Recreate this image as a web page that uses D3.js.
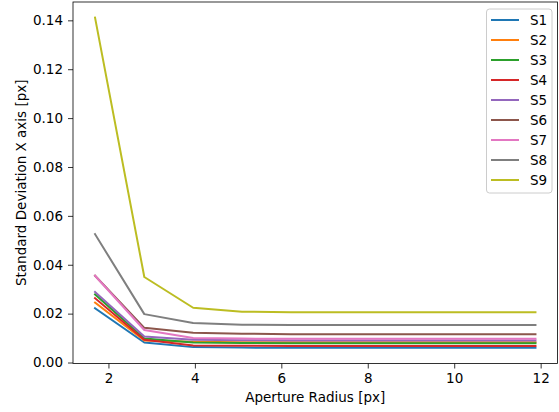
<!DOCTYPE html>
<html>
<head>
<meta charset="utf-8">
<script src="https://cdn.jsdelivr.net/npm/d3@7"></script>
<style>
  body { margin: 0; background: #fff; }
  svg { display: block; font-family: "DejaVu Sans", sans-serif; }
</style>
</head>
<body>
<svg id="chart" width="559" height="412"></svg>
<script>
// aperture radii (x) and one series per S1..S9
const radii = [1.69, 2.83, 3.96, 5.09, 6.22, 7.35, 8.49, 9.62, 10.75, 11.88];
const seriesNames = ["S1", "S2", "S3", "S4", "S5", "S6", "S7", "S8", "S9"];
const s1 = [0.0222, 0.0082, 0.0063, 0.0061, 0.0060, 0.0060, 0.0060, 0.0060, 0.0060, 0.0060];
const s2 = [0.0245, 0.0090, 0.0085, 0.0083, 0.0083, 0.0083, 0.0083, 0.0083, 0.0083, 0.0083];
const s3 = [0.0279, 0.0098, 0.0082, 0.0080, 0.0079, 0.0079, 0.0079, 0.0079, 0.0079, 0.0079];
const s4 = [0.0263, 0.0093, 0.0070, 0.0069, 0.0068, 0.0068, 0.0068, 0.0068, 0.0068, 0.0068];
const s5 = [0.0289, 0.0106, 0.0093, 0.0091, 0.0090, 0.0090, 0.0090, 0.0090, 0.0090, 0.0090];
const s6 = [0.0355, 0.0142, 0.0122, 0.0118, 0.0116, 0.0116, 0.0116, 0.0116, 0.0116, 0.0116];
const s7 = [0.0355, 0.0133, 0.0100, 0.0098, 0.0097, 0.0097, 0.0097, 0.0097, 0.0097, 0.0097];
const s8 = [0.0525, 0.0198, 0.0162, 0.0155, 0.0154, 0.0154, 0.0154, 0.0154, 0.0154, 0.0154];
const s9 = [0.1411, 0.0350, 0.0224, 0.0208, 0.0206, 0.0206, 0.0206, 0.0206, 0.0206, 0.0206];
const xTicks = [2, 4, 6, 8, 10, 12];
const yTicks = [0, 0.02, 0.04, 0.06, 0.08, 0.10, 0.12, 0.14];

(function(){

	const colors = ["#1f77b4", "#ff7f0e", "#2ca02c", "#d62728", "#9467bd",
	                "#8c564b", "#e377c2", "#7f7f7f", "#bcbd22"];
	const allSeries = [s1, s2, s3, s4, s5, s6, s7, s8, s9];

	const svg = d3.select("#chart");
	const plotLeft = 73, plotRight = 557.5, plotTop = 2, plotBottom = 363.5;

	const x = d3.scaleLinear().domain([1.18, 12.39]).range([plotLeft, plotRight]);
	const y = d3.scaleLinear().domain([-0.0004, 0.1475]).range([plotBottom, plotTop]);

	// lines, S1 drawn first so S9 ends up on top
	const line = d3.line()
		.x((d, i) => x(radii[i]))
		.y(d => y(d));

	svg.append("g").selectAll("path")
		.data(allSeries)
		.enter().append("path")
		.attr("d", d => line(d))
		.attr("fill", "none")
		.attr("stroke", (d, i) => colors[i])
		.attr("stroke-width", 2)
		.attr("stroke-linejoin", "round")
		.attr("stroke-linecap", "square");

	// axes
	const xAxis = d3.axisBottom(x).tickValues(xTicks).tickSize(5).tickPadding(5)
		.tickFormat(d3.format("d"));
	const yAxis = d3.axisLeft(y).tickValues(yTicks).tickSize(5).tickPadding(5)
		.tickFormat(d3.format(".2f"));

	const gx = svg.append("g").attr("transform", `translate(0,${plotBottom})`).call(xAxis);
	const gy = svg.append("g").attr("transform", `translate(${plotLeft},0)`).call(yAxis);
	[gx, gy].forEach(g => {
		g.select(".domain").remove();
		g.selectAll("line").attr("stroke", "#000").attr("stroke-width", 0.8);
		g.selectAll("text").attr("fill", "#000").style("font-size", "13.5px")
			.style("font-family", "DejaVu Sans, sans-serif");
	});

	// frame
	svg.append("rect")
		.attr("x", plotLeft).attr("y", plotTop)
		.attr("width", plotRight - plotLeft).attr("height", plotBottom - plotTop)
		.attr("fill", "none").attr("stroke", "#000").attr("stroke-width", 0.8);

	// axis labels
	svg.append("text")
		.attr("x", (plotLeft + plotRight) / 2).attr("y", 401.5)
		.attr("text-anchor", "middle")
		.style("font-size", "13.5px")
		.text("Aperture Radius [px]");

	svg.append("text")
		.attr("transform", `translate(26,${(plotTop + plotBottom) / 2}) rotate(-90)`)
		.attr("text-anchor", "middle")
		.style("font-size", "13.5px")
		.text("Standard Deviation X axis [px]");

	// legend
	const lg = svg.append("g");
	lg.append("rect")
		.attr("x", 486.5).attr("y", 9)
		.attr("width", 65.5).attr("height", 184)
		.attr("rx", 3).attr("ry", 3)
		.attr("fill", "#fff").attr("fill-opacity", 0.8)
		.attr("stroke", "#cccccc").attr("stroke-width", 1);

	const items = lg.selectAll("g.item")
		.data(seriesNames)
		.enter().append("g")
		.attr("transform", (d, i) => `translate(0,${20 + i * 20})`);
	items.append("line")
		.attr("x1", 491).attr("x2", 519)
		.attr("stroke", (d, i) => colors[i]).attr("stroke-width", 2);
	items.append("text")
		.attr("x", 530).attr("y", 5)
		.style("font-size", "13.5px")
		.text(d => d);

}());
</script>
</body>
</html>
